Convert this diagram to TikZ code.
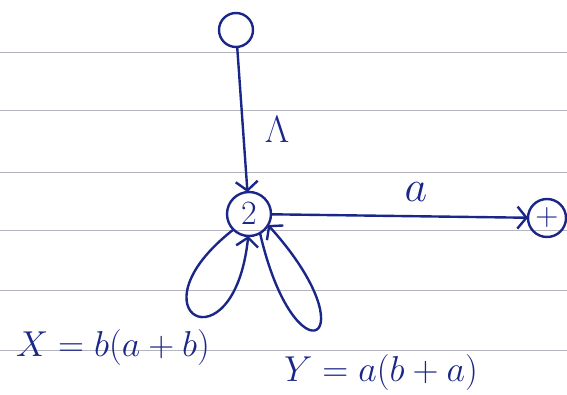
\documentclass[tikz,border=0pt]{standalone}
\usepackage{fix-cm}
\usepackage{tikz}
\usetikzlibrary{arrows.meta,positioning}
\definecolor{cInk}{HTML}{1A2688}
\definecolor{cRule}{HTML}{B4B4BE}

\begin{document}
\begin{tikzpicture}[x=1pt,y=1pt,line width=2.4pt,
  every node/.style={outer sep=0pt},
  state/.style={draw=cInk,circle,inner sep=0pt,text=cInk},
  edge/.style={draw=cInk,-{Straight Barb[length=9pt,width=22pt]}},
  lbl/.style={text=cInk,inner sep=0pt}]
\useasboundingbox (0,0) rectangle (567,394);
% ruled paper
\foreach \y in {342,284,222,164,104,44}
  \draw[cRule,line width=0.8pt] (0,\y) -- (567,\y);

% states
\node[state,minimum size=34pt] (top) at (236,364) {};
\node[state,minimum size=44pt,font=\fontsize{34}{34}\selectfont] (two) at (249,180) {$2$};
\node[state,minimum size=38pt,font=\fontsize{32}{32}\selectfont] (plus) at (547,176) {$+$};

% transitions
\draw[edge] (top) -- (two);
\draw[edge] (two) -- (plus);
\draw[edge] (two.225) .. controls +(218:136) and +(264:136) .. (two.268);
\draw[edge] (two.300) .. controls +(283:156) and +(312:156) .. (two.330);

% labels
\node[lbl,font=\fontsize{38}{38}\selectfont] (lam) at (277,264) {$\Lambda$};
\node[lbl,font=\fontsize{44}{44}\selectfont] (la) at (416,202) {$a$};
\node[lbl,font=\fontsize{36}{36}\selectfont] (xeq) at (113,47) {$X = b(a+b)$};
\node[lbl,font=\fontsize{36}{36}\selectfont] (yeq) at (381,22) {$Y = a(b+a)$};
\end{tikzpicture}
\end{document}
